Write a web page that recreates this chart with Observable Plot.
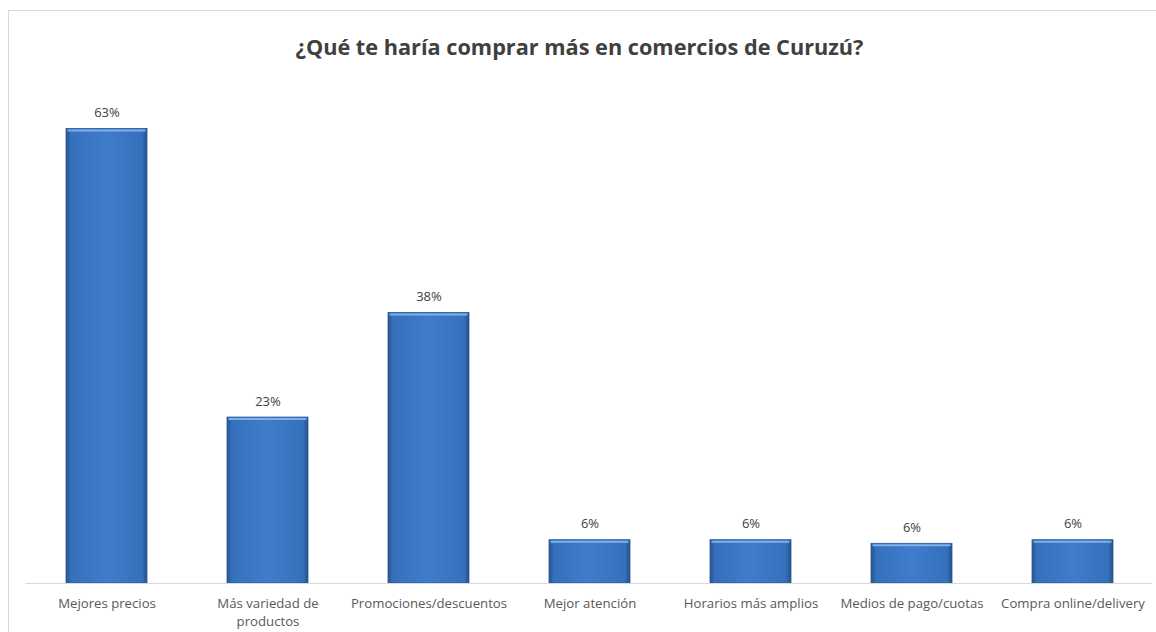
<!DOCTYPE html>
<html>
<head>
<meta charset="utf-8">
<script src="https://cdn.jsdelivr.net/npm/d3@7"></script>
<script src="https://cdn.jsdelivr.net/npm/@observablehq/plot@0.6"></script>
<style>
  html, body { margin: 0; padding: 0; background: #fff; overflow: hidden; }
  #frame { position: absolute; left: 8px; top: 10px; width: 1160px; height: 640px;
           border: 1px solid #d9d9d9; box-sizing: border-box; }
  #title { height: 70px; line-height: 72px; text-align: center; font-family: "Open Sans", sans-serif;
           font-weight: bold; font-size: 21.7px; color: #404040; padding-right: 17px; }
  #chart svg { display: block; }
</style>
</head>
<body>
<div id="frame">
  <div id="title">¿Qué te haría comprar más en comercios de Curuzú?</div>
  <div id="chart"></div>
</div>
<script>
const categories = ["Mejores precios", "Más variedad de productos", "Promociones/descuentos", "Mejor atención", "Horarios más amplios", "Medios de pago/cuotas", "Compra online/delivery"];
const tickLabels = ["Mejores precios", "Más variedad de\nproductos", "Promociones/descuentos", "Mejor atención", "Horarios más amplios", "Medios de pago/cuotas", "Compra online/delivery"];
const values = [63, 23, 37.5, 6, 6, 5.5, 6];

const data = categories.map((c, i) => ({category: c, value: values[i], label: Math.round(values[i]) + "%"}));
const labelOf = new Map(categories.map((c, i) => [c, tickLabels[i]]));

const chart = Plot.plot({
  width: 1158,
  height: 551,
  marginLeft: 16.5,
  marginRight: 14.5,
  marginTop: 33,
  marginBottom: 49,
  x: {domain: categories, padding: 0.5, paddingOuter: 0.25, axis: null, label: null},
  y: {domain: [0, 65], axis: null},
  style: {fontFamily: "Open Sans, sans-serif", fontSize: "13px", color: "#595959", background: "transparent"},
  marks: [
    Plot.barY(data, {x: "category", y: "value", fill: "url(#barGrad)", stroke: "#2a5a96", strokeWidth: 0.8}),
    Plot.tickY(data, {x: "category", y: "value", stroke: "#7fb0ec", strokeWidth: 2, dy: 1.5, insetLeft: 1.5, insetRight: 1.5}),
    Plot.ruleY([0], {stroke: "#d9d9d9", strokeWidth: 1.2}),
    Plot.text(data, {x: "category", y: "value", text: "label", dy: -16, fill: "#404040", fontSize: 13}),
    Plot.axisX({tickSize: 0, tickPadding: 12, fontSize: 13.2, label: null, tickFormat: d => labelOf.get(d), lineAnchor: "top", lineHeight: 1.35, color: "#595959"})
  ]
});

const svgNS = "http://www.w3.org/2000/svg";
const defs = document.createElementNS(svgNS, "defs");
defs.innerHTML = `
  <linearGradient id="barGrad" x1="0" y1="0" x2="1" y2="0">
    <stop offset="0%" stop-color="#26538d"/>
    <stop offset="6%" stop-color="#3570bb"/>
    <stop offset="50%" stop-color="#3f7ccb"/>
    <stop offset="94%" stop-color="#3570bb"/>
    <stop offset="100%" stop-color="#24508a"/>
  </linearGradient>`;
chart.insertBefore(defs, chart.firstChild);
document.getElementById("chart").appendChild(chart);
</script>
</body>
</html>
